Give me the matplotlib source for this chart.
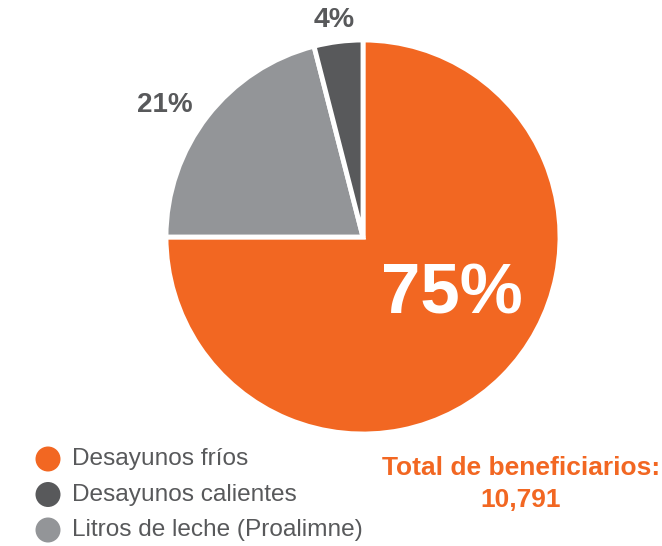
import matplotlib.pyplot as plt
from matplotlib.patches import Circle

categories = ["Desayunos fríos", "Desayunos calientes", "Litros de leche (Proalimne)"]
shares = [75, 4, 21]
colors = ["#F26722", "#58595B", "#939598"]
total_label = "Total de beneficiarios:"
total_value = "10,791"

# pie drawing order (clockwise from 12 o'clock): fríos, leche, calientes
order = [0, 2, 1]

W, H = 662, 546
fig = plt.figure(figsize=(W / 100, H / 100), dpi=100)
ax = fig.add_axes([0, 0, 1, 1])

cx, cy, r = 363, H - 237, 197
ax.pie(
    [shares[i] for i in order],
    colors=[colors[i] for i in order],
    startangle=90,
    counterclock=False,
    center=(cx, cy),
    radius=r,
    wedgeprops=dict(edgecolor="white", linewidth=3.5),
    frame=True,
)
ax.set_xlim(0, W)
ax.set_ylim(0, H)
ax.set_aspect("equal")
ax.axis("off")

font = ["Liberation Sans", "DejaVu Sans"]
ax.text(cx + 89, cy - 58, f"{shares[0]}%", color="white", fontsize=51,
        fontweight="bold", ha="center", va="center", family=font)
ax.text(cx - 198, cy + 132, f"{shares[2]}%", color="#58595B", fontsize=20,
        fontweight="bold", ha="center", va="center", family=font)
ax.text(cx - 29, cy + 217, f"{shares[1]}%", color="#58595B", fontsize=20.5,
        fontweight="bold", ha="center", va="center", family=font)

# legend
for k, (lab, col) in enumerate(zip(categories, colors)):
    y = H - (459 + 35.5 * k)
    ax.add_patch(Circle((48, y), 12.5, facecolor=col, edgecolor="none"))
    ax.text(72, y, lab, color="#58595B", fontsize=17.6, ha="left", va="center",
            family=font)

ax.text(521, H - 468, total_label, color="#F26722", fontsize=19,
        fontweight="bold", ha="center", va="center", family=font)
ax.text(521, H - 500, total_value, color="#F26722", fontsize=19,
        fontweight="bold", ha="center", va="center", family=font)

fig.savefig("out.png", dpi=100)
